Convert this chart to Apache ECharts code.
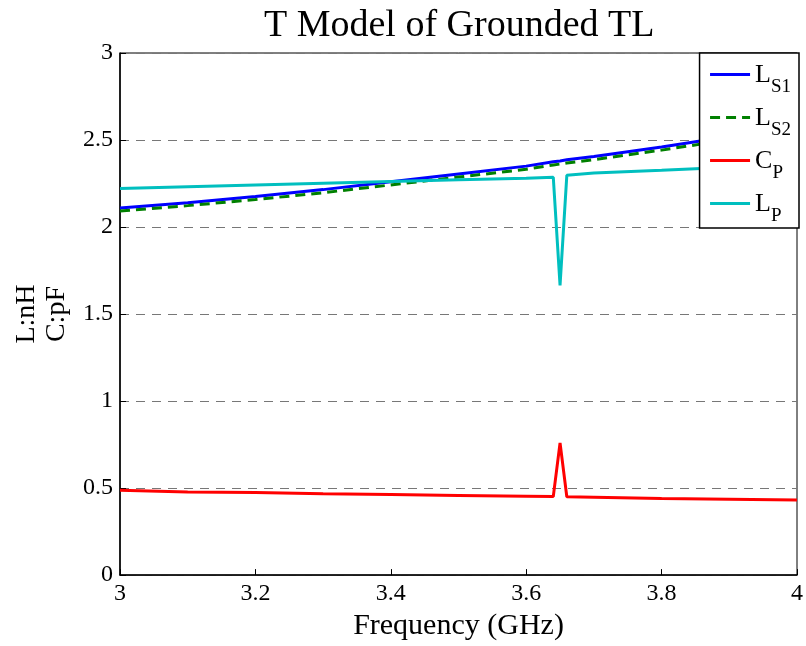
<!DOCTYPE html>
<html>
<head>
<meta charset="utf-8">
<script src="https://cdn.jsdelivr.net/npm/echarts@6/dist/echarts.min.js"></script>
<style>html,body{margin:0;padding:0;background:#fff}#c{width:806px;height:646px}</style>
</head>
<body>
<div id="c"></div>
<script>
const freq = [3.0,3.1,3.2,3.3,3.4,3.5,3.6,3.64,3.65,3.66,3.7,3.8,3.9,4.0];
const LS1 = [2.11,2.14,2.175,2.215,2.26,2.305,2.35,2.375,2.38,2.386,2.405,2.46,2.52,2.59];
const LS2 = [2.092,2.123,2.158,2.197,2.242,2.287,2.332,2.357,2.362,2.368,2.387,2.442,2.502,2.57];
const CP  = [0.487,0.478,0.474,0.468,0.463,0.458,0.453,0.451,0.76,0.45,0.447,0.44,0.436,0.432];
const LP  = [2.222,2.232,2.242,2.252,2.262,2.272,2.281,2.286,1.665,2.297,2.31,2.326,2.343,2.36];
const seriesNames = ['LS1','LS2','CP','LP'];
const xTicks = {min:3, max:4, step:0.2};
const yTicks = {min:0, max:3, step:0.5};

const FONT = 'Liberation Serif';
const pair = (ys) => freq.map((x,i)=>[x, ys[i]]);
const chart = echarts.init(document.getElementById('c'));
chart.setOption({
  animation:false,
  backgroundColor:'#fff',
  title:{text:'T Model of Grounded TL', left:259, top:2,
    textStyle:{fontFamily:FONT, fontWeight:'normal', fontSize:38, color:'#000'}},
  grid:{left:120, right:8, top:53, bottom:68, show:true, borderColor:'#000', borderWidth:1},
  legend:{
    orient:'vertical', right:7, top:53, padding:[9,8,2,9],
    backgroundColor:'#fff', borderColor:'#000', borderWidth:1.5,
    itemWidth:40, itemHeight:30, itemGap:8,
    itemStyle:{opacity:0},
    lineStyle:{width:3},
    data:seriesNames,
    formatter:(n)=>'{m|'+n[0]+'}{s|'+n.slice(1)+'}',
    textStyle:{fontFamily:FONT, color:'#000',
      rich:{m:{fontFamily:FONT, fontSize:26, color:'#000', lineHeight:25, verticalAlign:'top'},
            s:{fontFamily:FONT, fontSize:19, color:'#000', lineHeight:20, verticalAlign:'top', padding:[16,0,0,0]}}}
  },
  xAxis:{type:'value', min:xTicks.min, max:xTicks.max, interval:xTicks.step,
    name:'Frequency (GHz)', nameLocation:'middle', nameGap:32,
    nameTextStyle:{fontFamily:FONT, fontSize:30, color:'#000'},
    axisLine:{show:true, lineStyle:{color:'#000', width:1.5}},
    axisTick:{show:true, inside:true, length:6, lineStyle:{color:'#000'}},
    axisLabel:{fontFamily:FONT, fontSize:24, color:'#000', margin:7},
    splitLine:{show:false}},
  yAxis:{type:'value', min:yTicks.min, max:yTicks.max, interval:yTicks.step,
    name:'L:nH\nC:pF', nameLocation:'middle', nameGap:47, nameRotate:90,
    nameTextStyle:{fontFamily:FONT, fontSize:28, color:'#000', lineHeight:30},
    axisLine:{show:true, lineStyle:{color:'#000', width:1.5}},
    axisTick:{show:true, inside:true, length:6, lineStyle:{color:'#000'}},
    axisLabel:{fontFamily:FONT, fontSize:24, color:'#000', margin:7},
    splitLine:{show:true, lineStyle:{color:'#777', width:1, type:[9,7]}}},
  series:[
    {name:'LS1', type:'line', data:pair(LS1), symbol:'none', lineStyle:{color:'#0000ff', width:3}, itemStyle:{color:'#0000ff'}},
    {name:'LS2', type:'line', data:pair(LS2), symbol:'none', lineStyle:{color:'#008000', width:3, type:[10,6]}, itemStyle:{color:'#008000'}},
    {name:'CP', type:'line', data:pair(CP), symbol:'none', lineStyle:{color:'#ff0000', width:3}, itemStyle:{color:'#ff0000'}},
    {name:'LP', type:'line', data:pair(LP), symbol:'none', lineStyle:{color:'#00bfbf', width:3}, itemStyle:{color:'#00bfbf'}}
  ]
});
</script>
</body>
</html>
